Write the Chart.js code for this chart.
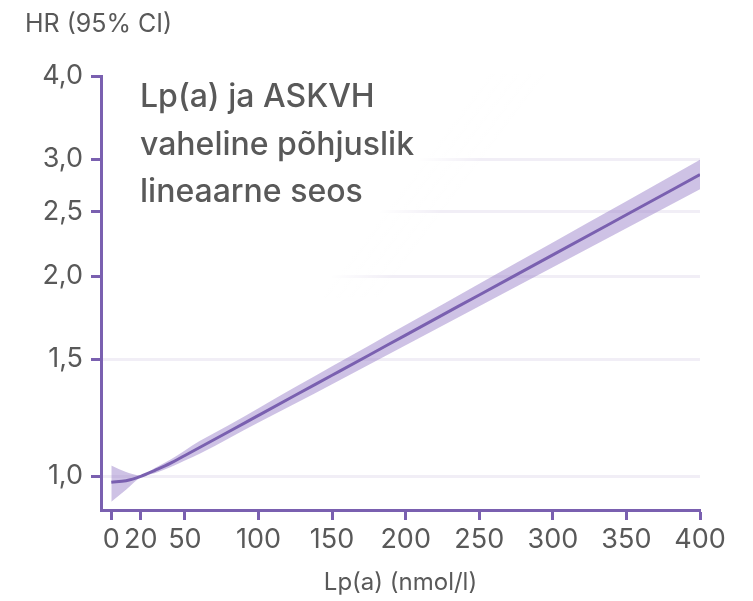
<!DOCTYPE html>
<html>
<head>
<meta charset="utf-8">
<script src="https://cdn.jsdelivr.net/npm/chart.js@4"></script>
<style>
  body { margin: 0; background: #fff; }
  canvas { display: block; }
</style>
</head>
<body>
<canvas id="hrchart" width="753" height="601"></canvas>
<script>
// Lp(a) (nmol/l) positions
var lpa    = [0, 10, 20, 30, 40, 50, 60, 80, 100, 125, 150, 175, 200, 250, 300, 350, 400];
// hazard ratio and 95% CI
var hr     = [0.98, 0.985, 1.0, 1.022, 1.046, 1.075, 1.105, 1.168, 1.235, 1.324, 1.419, 1.521, 1.631, 1.874, 2.153, 2.474, 2.843];
var ciLow  = [0.916, 0.955, 0.997, 1.012, 1.032, 1.056, 1.081, 1.141, 1.205, 1.287, 1.376, 1.472, 1.575, 1.802, 2.062, 2.36, 2.702];
var ciHigh = [1.038, 1.015, 1.003, 1.03, 1.059, 1.094, 1.13, 1.195, 1.266, 1.362, 1.464, 1.572, 1.689, 1.949, 2.248, 2.593, 2.992];

var xTicks = [0, 20, 50, 100, 150, 200, 250, 300, 350, 400];
var yTicks = [1.0, 1.5, 2.0, 2.5, 3.0, 4.0];
var headline = ['Lp(a) ja ASKVH', 'vaheline põhjuslik', 'lineaarne seos'];

var purple = '#7a60b0';
var textGrey = '#595959';

function pts(ys) {
	return lpa.map(function (x, i) { return { x: x, y: ys[i] }; });
}

/*----------------------------------------*/
/*  headline with a soft white backdrop
/*----------------------------------------*/
var headlinePlugin = {
	id: 'headline',
	beforeDatasetsDraw: function (chart) {
		var ctx = chart.ctx, a = chart.chartArea;
		ctx.save();
		var g = ctx.createLinearGradient(538, 0, 578, 30);
		g.addColorStop(0, 'rgba(255,255,255,1)');
		g.addColorStop(1, 'rgba(255,255,255,0)');
		ctx.fillStyle = g;
		ctx.fillRect(a.left + 2, a.top - 2, a.right - a.left, 300 - a.top);
		ctx.fillStyle = textGrey;
		ctx.font = '500 32px Inter';
		ctx.textBaseline = 'alphabetic';
		var base = [107, 155, 202];
		headline.forEach(function (t, i) { ctx.fillText(t, 140, base[i]); });
		ctx.restore();
	}
};

var ctx = document.getElementById('hrchart');
var hrchart = new Chart(ctx, {
	type: 'line',
	data: {
		datasets: [{
			label: 'upper',
			data: pts(ciHigh),
			borderWidth: 0,
			pointRadius: 0,
			backgroundColor: 'rgba(150,125,200,0.47)',
			fill: '+1',
			order: 2
		}, {
			label: 'lower',
			data: pts(ciLow),
			borderWidth: 0,
			pointRadius: 0,
			fill: false,
			order: 2
		}, {
			label: 'HR',
			data: pts(hr),
			borderColor: purple,
			borderWidth: 3,
			pointRadius: 0,
			fill: false,
			order: 1
		}]
	},
	options: {
		responsive: false,
		animation: false,
		devicePixelRatio: 1,
		cubicInterpolationMode: 'monotone',
		layout: { padding: { left: 25, right: 53, top: 0, bottom: 0 } },
		plugins: {
			legend: { display: false },
			tooltip: { enabled: false },
			title: {
				display: true,
				text: 'HR (95% CI)',
				align: 'start',
				color: textGrey,
				font: { family: 'Inter', size: 25, weight: 'normal' },
				padding: { top: 9, bottom: 37 }
			}
		},
		scales: {
			x: {
				type: 'linear',
				min: -7,
				max: 400,
				afterBuildTicks: function (scale) {
					scale.ticks = xTicks.map(function (v) { return { value: v }; });
				},
				afterFit: function (scale) { scale.height = 91; },
				border: { color: purple, width: 3 },
				grid: { drawOnChartArea: false, tickColor: purple, tickWidth: 3, tickLength: 10 },
				ticks: {
					autoSkip: false,
					maxRotation: 0,
					color: textGrey,
					padding: 4,
					font: { family: 'Inter', size: 27 }
				},
				title: {
					display: true,
					text: 'Lp(a) (nmol/l)',
					color: textGrey,
					font: { family: 'Inter', size: 24 },
					padding: { top: 4, bottom: 4 }
				}
			},
			y: {
				type: 'logarithmic',
				min: 0.89,
				max: 4,
				afterBuildTicks: function (scale) {
					scale.ticks = yTicks.map(function (v) { return { value: v }; });
				},
				afterFit: function (scale) { scale.width = 76; },
				border: { color: purple, width: 3 },
				grid: {
					color: function (c) { return c.tick && c.tick.value === 4 ? 'rgba(0,0,0,0)' : '#f1eef6'; },
					lineWidth: 3,
					tickColor: purple,
					tickWidth: 3,
					tickLength: 10
				},
				ticks: {
					autoSkip: false,
					color: textGrey,
					padding: 8,
					font: { family: 'Inter', size: 27 },
					callback: function (v) { return Number(v).toFixed(1).replace('.', ','); }
				}
			}
		}
	},
	plugins: [headlinePlugin]
});
</script>
</body>
</html>
